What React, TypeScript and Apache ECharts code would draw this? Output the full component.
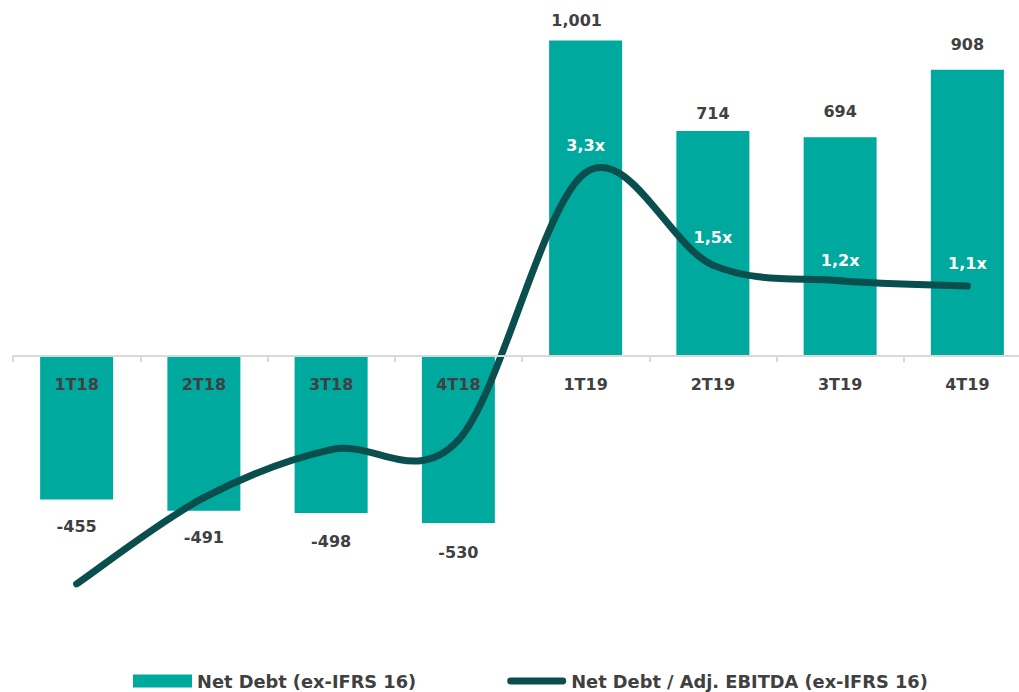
import React, { useEffect, useRef } from "react";
import * as echarts from "echarts";

const categories = ["1T18", "2T18", "3T18", "4T18", "1T19", "2T19", "3T19", "4T19"];
const netDebt = [-455, -491, -498, -530, 1001, 714, 694, 908];
const leverage = [-4.6, -2.95, -2.03, -1.85, 3.27, 1.5, 1.2, 1.1];
const leverageLabelled = [false, false, false, false, true, true, true, true];
const seriesNames = ["Net Debt (ex-IFRS 16)", "Net Debt / Adj. EBITDA (ex-IFRS 16)"];

// label gaps (px)
const barLabelGap = [19, 19, 21, 21, 12, 9, 18, 17];
const barLabelShiftX = [0, 0, 0, 0, -9, 0, 0, 0];
const lineLabelRise = [0, 0, 0, 0, 27, 28, 20, 23];

const BAR = "#00a99d";
const LINE = "#0a4f4d";
const TXT = "#404040";
const FONT = "DejaVu Sans";

export default function App() {
  const ref = useRef<HTMLDivElement>(null);
  useEffect(() => {
    if (!ref.current) return;
    const chart = echarts.init(ref.current, null, { renderer: "svg" });
    const fmtNum = (v: number) => v.toLocaleString("en-US");
    const fmtX = (v: number) => v.toFixed(1).replace(".", ",") + "x";

    const renderLine = (params: any, api: any) => {
      const i = params.dataIndex;
      const n = leverage.length;
      const pts = leverage.map((v, k) => api.coord([k, v]));
      const children: any[] = [];
      if (i < n - 1) {
        const p0 = pts[Math.max(i - 1, 0)];
        const p1 = pts[i];
        const p2 = pts[i + 1];
        const p3 = pts[Math.min(i + 2, n - 1)];
        children.push({
          type: "bezierCurve",
          shape: {
            x1: p1[0],
            y1: p1[1],
            cpx1: p1[0] + (p2[0] - p0[0]) / 6,
            cpy1: p1[1] + (p2[1] - p0[1]) / 6,
            cpx2: p2[0] - (p3[0] - p1[0]) / 6,
            cpy2: p2[1] - (p3[1] - p1[1]) / 6,
            x2: p2[0],
            y2: p2[1],
          },
          style: { stroke: LINE, lineWidth: 7, fill: null, lineCap: "round" },
        });
      }
      if (leverageLabelled[i]) {
        children.push({
          type: "text",
          z2: 10,
          style: {
            text: fmtX(leverage[i]),
            x: pts[i][0],
            y: pts[i][1] - lineLabelRise[i],
            align: "center",
            verticalAlign: "middle",
            fill: "#ffffff",
            fontFamily: FONT,
            fontWeight: "bold",
            fontSize: 16,
          },
        });
      }
      return { type: "group", children };
    };

    const option: any = {
      animation: false,
      backgroundColor: "#ffffff",
      textStyle: { fontFamily: FONT },
      grid: { left: 13, top: 9.3, width: 1018, height: 630.4, containLabel: false },
      legend: {
        left: 133,
        top: 672,
        padding: 0,
        itemWidth: 59,
        itemHeight: 13,
        itemGap: 91,
        textStyle: { color: TXT, fontFamily: FONT, fontWeight: "bold", fontSize: 17.8 },
        data: [
          { name: seriesNames[0], icon: "rect", itemStyle: { color: BAR } },
          {
            name: seriesNames[1],
            icon: "path://M3.5,0L56.5,0A3.5,3.5,0,0,1,56.5,7L3.5,7A3.5,3.5,0,0,1,3.5,0Z",
            itemStyle: { color: LINE },
          },
        ],
      },
      xAxis: {
        type: "category",
        data: categories,
        offset: -283.7,
        axisLine: { show: true, onZero: false, lineStyle: { color: "#d9d9d9", width: 2 } },
        axisTick: { show: true, length: 6, lineStyle: { color: "#d9d9d9", width: 2 } },
        axisLabel: { color: TXT, fontFamily: FONT, fontWeight: "bold", fontSize: 16, margin: 20 },
        z: 10,
      },
      yAxis: [
        { type: "value", min: -900, max: 1100, show: false, splitLine: { show: false } },
        { type: "value", min: -5.667, max: 6.394, show: false, splitLine: { show: false } },
      ],
      series: [
        {
          name: seriesNames[0],
          type: "bar",
          barWidth: 73,
          itemStyle: { color: BAR },
          z: 2,
          data: netDebt.map((v, i) => ({
            value: v,
            label: {
              show: true,
              position: v >= 0 ? "top" : "bottom",
              distance: barLabelGap[i],
              offset: [barLabelShiftX[i], 0],
              formatter: () => fmtNum(v),
              color: TXT,
              fontFamily: FONT,
              fontWeight: "bold",
              fontSize: 16,
            },
          })),
        },
        {
          name: seriesNames[1],
          type: "custom",
          yAxisIndex: 1,
          clip: false,
          z: 5,
          itemStyle: { color: LINE },
          encode: { x: 0, y: 1 },
          renderItem: renderLine,
          data: leverage.map((v, i) => [i, v]),
        },
      ],
    };
    chart.setOption(option);
    return () => chart.dispose();
  }, []);
  return (
    <div style={{ position: "absolute", left: 0, top: 0, width: 1019, height: 692, overflow: "hidden" }}>
      <div ref={ref} style={{ width: 1040, height: 692 }} />
    </div>
  );
}
